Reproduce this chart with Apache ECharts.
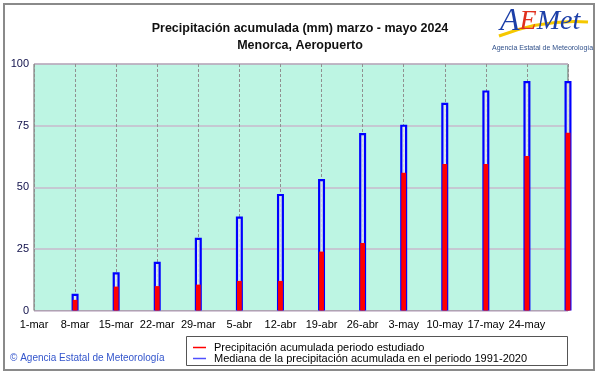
<!DOCTYPE html>
<html>
<head>
<meta charset="utf-8">
<script src="https://cdn.jsdelivr.net/npm/echarts@6/dist/echarts.min.js"></script>
<style>html,body{margin:0;padding:0;background:#fff}#c{width:601px;height:374px}</style>
</head>
<body>
<div id="c"></div>
<script>
const categories = ['1-mar','8-mar','15-mar','22-mar','29-mar','5-abr','12-abr','19-abr','26-abr','3-may','10-may','17-may','24-may','31-may'];
const precipitacion = ['-', 4.3, 9.7, 9.9, 10.5, 12.0, 12.0, 23.9, 27.4, 55.9, 59.4, 59.4, 62.7, 72.1];
const mediana = ['-', 6.8, 15.5, 19.8, 29.5, 38.1, 47.3, 53.3, 72.0, 75.4, 84.3, 89.3, 93.1, 93.1];
const yTicks = [0, 25, 50, 75, 100];

const FONT = 'Liberation Sans';
const chart = echarts.init(document.getElementById('c'), null, {renderer: 'canvas'});
chart.setOption({
  animation: false,
  backgroundColor: '#ffffff',
  textStyle: {fontFamily: FONT},
  title: {
    text: 'Precipitación acumulada (mm) marzo - mayo 2024\nMenorca, Aeropuerto',
    left: 295, top: 15, textAlign: 'center',
    textStyle: {fontSize: 12.5, fontWeight: 'bold', color: '#111', lineHeight: 17, fontFamily: FONT}
  },
  grid: {left: 34, top: 64, right: 33, bottom: 63.5, show: true, backgroundColor: '#bdf5e3', borderColor: '#666', borderWidth: 1},
  legend: {
    left: 193, top: 342, height: 40, padding: 0, orient: 'vertical', itemWidth: 13, itemHeight: 1.5, itemGap: 0, icon: 'rect',
    textStyle: {fontSize: 11, lineHeight: 11, color: '#000', fontFamily: FONT, padding: [0, 0, 0, 3]},
    data: [
      {name: 'Precipitación acumulada periodo estudiado', itemStyle: {color: '#ff0000', borderWidth: 0}},
      {name: 'Mediana de la precipitación acumulada en el periodo 1991-2020', itemStyle: {color: '#5050ff', borderWidth: 0}}
    ]
  },
  xAxis: [{
    type: 'category', data: categories, boundaryGap: false,
    axisLine: {show: false}, axisTick: {show: false},
    axisLabel: {interval: 0, margin: 9, fontSize: 11, color: '#000', fontFamily: FONT,
      formatter: (v, i) => i === categories.length - 1 ? '' : v},
    splitLine: {show: true, lineStyle: {color: '#909090', type: [3, 2], width: 1}}
  }, {
    type: 'category', data: categories, boundaryGap: false, show: false
  }],
  yAxis: {
    type: 'value', min: yTicks[0], max: yTicks[yTicks.length - 1], interval: 25,
    axisLine: {show: false}, axisTick: {show: false},
    axisLabel: {margin: 5, fontSize: 11, color: '#10104a', fontFamily: FONT},
    splitLine: {show: true, lineStyle: {color: '#c8b8cc', width: 1.5}}
  },
  series: [
    {
      name: 'Mediana de la precipitación acumulada en el periodo 1991-2020',
      type: 'bar', xAxisIndex: 0, data: mediana, barWidth: 7, clip: false, z: 2,
      itemStyle: {color: 'rgba(225,232,232,0.85)', borderColor: '#0000ff', borderWidth: 2.2}
    },
    {
      name: 'Precipitación acumulada periodo estudiado',
      type: 'bar', xAxisIndex: 1, data: precipitacion, barWidth: 4.8, clip: false, z: 3,
      itemStyle: {color: '#ff0000'}
    }
  ],
  graphic: [
    {type: 'rect', shape: {x: 4, y: 4, width: 590, height: 366}, style: {fill: 'none', stroke: '#8a8a8a', lineWidth: 2}, z: 0, silent: true},
    {type: 'rect', shape: {x: 186.5, y: 336.5, width: 381, height: 29}, style: {fill: '#fff', stroke: '#555', lineWidth: 1}, z: -1, silent: true},
    {type: 'text', left: 10, top: 353, style: {text: '© Agencia Estatal de Meteorología', fill: '#3355cc', font: '10px "Liberation Sans"'}, silent: true},
    {type: 'bezierCurve', shape: {x1: 499, y1: 36, x2: 588, y2: 22, cpx1: 530, cpy1: 24, cpx2: 560, cpy2: 20}, style: {stroke: '#f5c800', lineWidth: 3, fill: 'none'}, z: 5, silent: true},
    {type: 'text', left: 500, top: 6, z: 6, style: {
      text: '{a|A}{e|E}{m|Met}', font: 'italic 30px "Liberation Serif"',
      rich: {a: {fill: '#1c3fa8', font: 'italic 32px "Liberation Serif"'}, e: {fill: '#e0301e', font: 'italic 28px "Liberation Serif"'}, m: {fill: '#1c3fa8', font: 'italic 28px "Liberation Serif"'}}
    }, silent: true},
    {type: 'text', left: 492, top: 45, z: 6, style: {text: 'Agencia Estatal de Meteorología', fill: '#30508a', font: '7px "Liberation Sans"'}, silent: true}
  ]
});
</script>
</body>
</html>
